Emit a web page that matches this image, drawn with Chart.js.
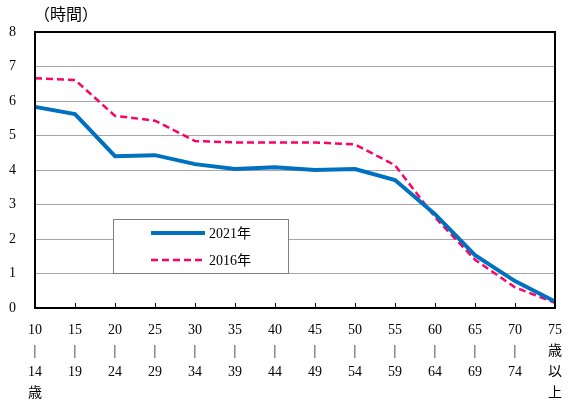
<!DOCTYPE html>
<html>
<head>
<meta charset="utf-8">
<script src="https://cdn.jsdelivr.net/npm/chart.js@4"></script>
<style>
  html, body { margin: 0; padding: 0; background: #fff; }
  #wrap { width: 574px; height: 401px; }
</style>
</head>
<body>
<div id="wrap"><canvas id="chart" width="574" height="401"></canvas></div>
<script>
const ageLabels = [
  ['10', '|', '14', '歳'], ['15', '|', '19'], ['20', '|', '24'], ['25', '|', '29'],
  ['30', '|', '34'], ['35', '|', '39'], ['40', '|', '44'], ['45', '|', '49'],
  ['50', '|', '54'], ['55', '|', '59'], ['60', '|', '64'], ['65', '|', '69'],
  ['70', '|', '74'], ['75', '歳', '以', '上']
];
const hours2021 = [5.83, 5.62, 4.40, 4.43, 4.17, 4.03, 4.08, 4.00, 4.03, 3.71, 2.72, 1.53, 0.78, 0.19];
const hours2016 = [6.66, 6.61, 5.57, 5.43, 4.84, 4.80, 4.80, 4.80, 4.74, 4.14, 2.63, 1.40, 0.60, 0.15];
const unitLabel = '（時間）';

const FONT = '"Liberation Serif", "Noto Sans CJK JP", serif';

// title, inside ticks, frame and legend box
const extras = {
  id: 'extras',
  afterDraw(chart) {
    const ctx = chart.ctx;
    const a = chart.chartArea;
    const xs = chart.scales.x;
    ctx.save();
    // ticks pointing into the plot
    ctx.strokeStyle = '#000';
    ctx.lineWidth = 1;
    xs.ticks.forEach((t, i) => {
      const x = Math.round(xs.getPixelForTick(i)) + 0.5;
      ctx.beginPath();
      ctx.moveTo(x, a.bottom);
      ctx.lineTo(x, a.bottom - 5);
      ctx.stroke();
    });
    // frame
    ctx.lineWidth = 2;
    ctx.strokeRect(a.left, a.top, a.right - a.left, a.bottom - a.top);

    // unit label
    ctx.fillStyle = '#000';
    ctx.font = '16px ' + FONT;
    ctx.textBaseline = 'middle';
    ctx.textAlign = 'left';
    ctx.fillText(unitLabel, 34, 16);

    // legend
    const bx = 113, by = 219, bw = 175, bh = 54;
    ctx.fillStyle = '#fff';
    ctx.fillRect(bx, by, bw, bh);
    ctx.strokeStyle = '#7f7f7f';
    ctx.lineWidth = 1;
    ctx.strokeRect(bx + 0.5, by + 0.5, bw, bh);
    chart.data.datasets.forEach((ds, i) => {
      const y = by + 14 + i * 27;
      ctx.strokeStyle = ds.borderColor;
      ctx.lineWidth = ds.borderWidth;
      ctx.setLineDash(ds.borderDash || []);
      ctx.beginPath();
      ctx.moveTo(151, y);
      ctx.lineTo(205, y);
      ctx.stroke();
      ctx.setLineDash([]);
      ctx.fillStyle = '#000';
      ctx.font = '14px ' + FONT;
      ctx.fillText(ds.label, 209, y + 1);
    });
    ctx.restore();
  }
};

new Chart(document.getElementById('chart').getContext('2d'), {
  type: 'line',
  data: {
    labels: ageLabels,
    datasets: [
      {
        label: '2021年',
        data: hours2021,
        borderColor: '#0070C0',
        borderWidth: 4,
        pointRadius: 0,
        tension: 0,
        fill: false
      },
      {
        label: '2016年',
        data: hours2016,
        borderColor: '#FF0066',
        borderWidth: 2.5,
        borderDash: [7, 4],
        pointRadius: 0,
        tension: 0,
        fill: false
      }
    ]
  },
  options: {
    responsive: false,
    animation: false,
    layout: { padding: { top: 32, right: 14, left: 0, bottom: 0 } },
    scales: {
      x: {
        offset: false,
        grid: { display: false, drawTicks: false },
        border: { display: false },
        ticks: {
          autoSkip: false,
          maxRotation: 0,
          minRotation: 0,
          padding: 12,
          color: '#000',
          font: { family: FONT, size: 14, lineHeight: 1.5 }
        },
        afterFit: s => { s.height = 93; }
      },
      y: {
        min: 0,
        max: 8,
        grid: { color: '#a6a6a6', lineWidth: 1, drawTicks: false },
        border: { display: false },
        ticks: {
          stepSize: 1,
          padding: 19,
          color: '#000',
          font: { family: FONT, size: 14 }
        },
        afterFit: s => { s.width = 35; }
      }
    },
    plugins: {
      legend: { display: false },
      tooltip: { enabled: false }
    }
  },
  plugins: [extras]
});
</script>
</body>
</html>
